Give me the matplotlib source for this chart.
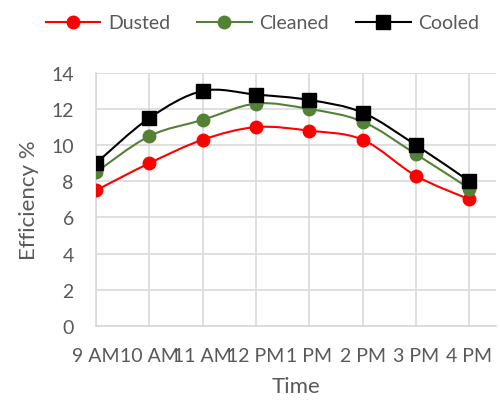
import numpy as np
import matplotlib.pyplot as plt
from matplotlib.path import Path
from matplotlib.patches import PathPatch
from matplotlib.lines import Line2D

times = ['9 AM', '10 AM', '11 AM', '12 PM', '1 PM', '2 PM', '3 PM', '4 PM']
dusted = [7.5, 9.0, 10.3, 11.0, 10.8, 10.3, 8.3, 7.0]
cleaned = [8.5, 10.5, 11.4, 12.3, 12.0, 11.3, 9.5, 7.6]
cooled = [9.0, 11.5, 13.0, 12.8, 12.5, 11.8, 10.0, 8.0]

plt.rcParams['font.family'] = ['Lato', 'DejaVu Sans']
txt = '#595959'
grid = '#d9d9d9'


def smooth_path(x, y):
    # Excel-like smoothed line: Catmull-Rom segments as cubic Bezier curves
    pts = np.column_stack([x, y]).astype(float)
    verts = [pts[0]]
    codes = [Path.MOVETO]
    n = len(pts)
    for i in range(n - 1):
        p0 = pts[max(i - 1, 0)]
        p1 = pts[i]
        p2 = pts[i + 1]
        p3 = pts[min(i + 2, n - 1)]
        c1 = p1 + (p2 - p0) / 6
        c2 = p2 - (p3 - p1) / 6
        verts += [c1, c2, p2]
        codes += [Path.CURVE4] * 3
    return Path(verts, codes)


fig = plt.figure(figsize=(5, 4.06), dpi=100)
ax = fig.add_axes([0.192, 0.195, 0.8, 0.623])

x = np.arange(len(times))
series = [
    ('Dusted', dusted, 'red', 'o', 9),
    ('Cleaned', cleaned, '#538135', 'o', 9),
    ('Cooled', cooled, 'black', 's', 9.5),
]
handles = []
for name, vals, col, mk, ms in series:
    ax.add_patch(PathPatch(smooth_path(x, vals), facecolor='none', edgecolor=col, lw=1.5, zorder=3))
    ax.plot(x, vals, linestyle='none', marker=mk, ms=ms, color=col, zorder=4)
    handles.append(Line2D([], [], color=col, lw=1.5, marker=mk, ms=ms, label=name))

ax.set_xlim(0, 7.5)
ax.set_ylim(0, 14)
ax.set_yticks(range(0, 15, 2))
ax.set_xticks(x)
ax.set_xticklabels(times)
ax.grid(True, color=grid, lw=1.2)
ax.set_axisbelow(True)
for s in ['top', 'right']:
    ax.spines[s].set_visible(False)
for s in ['left', 'bottom']:
    ax.spines[s].set_color(grid)
    ax.spines[s].set_linewidth(1.2)
ax.tick_params(axis='y', length=0, labelsize=14, colors=txt, pad=16)
ax.tick_params(axis='x', length=0, labelsize=14, colors=txt, pad=15)
ax.set_xlabel('Time', fontsize=16, color=txt, labelpad=9)
ax.set_ylabel('Efficiency %', fontsize=16, color=txt, labelpad=9)

fig.legend(handles=handles, loc='upper center', bbox_to_anchor=(0.525, 1.005), ncol=3,
           frameon=False, fontsize=14, labelcolor=txt, handlelength=2.8,
           columnspacing=1.4, handletextpad=0.4)

fig.savefig('out.png', dpi=100)
